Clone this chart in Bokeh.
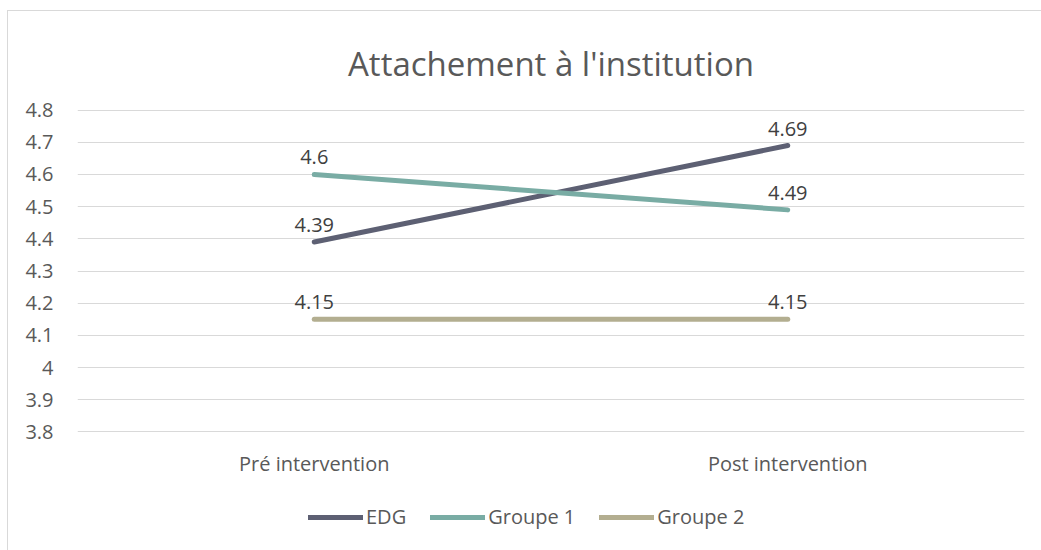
from bokeh.plotting import figure
from bokeh.layouts import column
from bokeh.models import ColumnDataSource, FactorRange, Range1d, FixedTicker, Legend, LegendItem, LabelSet
from bokeh.core.properties import value
from bokeh.embed import file_html
from bokeh.resources import INLINE

categories = ["Pré intervention", "Post intervention"]
series_names = ["EDG", "Groupe 1", "Groupe 2"]
edg = [4.39, 4.69]
groupe1 = [4.6, 4.49]
groupe2 = [4.15, 4.15]
y_ticks = [3.8, 3.9, 4.0, 4.1, 4.2, 4.3, 4.4, 4.5, 4.6, 4.7, 4.8]
y_tick_labels = ["3.8", "3.9", "4", "4.1", "4.2", "4.3", "4.4", "4.5", "4.6", "4.7", "4.8"]
colors = ["#5d6073", "#79aca4", "#b3ae90"]

FONT = "Open Sans"
TXT = "#595959"

p = figure(
    x_range=FactorRange(*categories, range_padding=0),
    y_range=Range1d(y_ticks[0] - 0.002, y_ticks[-1] + 0.002),
    frame_width=947, frame_height=323,
    output_backend="svg", toolbar_location=None,
    min_border_left=69, min_border_right=17, min_border_top=98, min_border_bottom=60,
)

p.title.text = "Attachement à l'institution"
p.title.align = "center"
p.title.text_font = FONT
p.title.text_font_size = "33px"
p.title.text_font_style = "normal"
p.title.text_color = TXT
p.title.standoff = 47

p.outline_line_color = None
p.background_fill_color = "white"
p.border_fill_color = "white"

p.xgrid.grid_line_color = None
p.ygrid.grid_line_color = "#d9d9d9"
p.ygrid.grid_line_width = 1
p.yaxis.ticker = FixedTicker(ticks=y_ticks)
p.yaxis.major_label_overrides = {t: l for t, l in zip(y_ticks, y_tick_labels)}

for ax in (p.xaxis, p.yaxis):
    ax.axis_line_color = None
    ax.major_tick_line_color = None
    ax.minor_tick_line_color = None
    ax.major_tick_out = 0
    ax.major_tick_in = 0
    ax.major_label_text_font = FONT
    ax.major_label_text_font_size = "20px"
    ax.major_label_text_color = TXT
p.yaxis.major_label_standoff = 24
p.xaxis.major_label_standoff = 17

# Legend strip (separate small figure below the chart)
leg = figure(width=1033, height=58, x_range=FactorRange(*categories), y_range=Range1d(0, 1),
             output_backend="svg", toolbar_location=None,
             x_axis_location=None, y_axis_location=None,
             min_border_left=0, min_border_right=0, min_border_top=0, min_border_bottom=0)
leg.outline_line_color = None
leg.xgrid.grid_line_color = None
leg.ygrid.grid_line_color = None
leg.background_fill_color = "white"
leg.border_fill_color = "white"

items = []
for name, vals, col in zip(series_names, [edg, groupe1, groupe2], colors):
    src = ColumnDataSource(dict(x=categories, y=vals, lab=[f"{v:g}" for v in vals]))
    p.line("x", "y", source=src, line_color=col, line_width=5, line_cap="round")
    lbl = LabelSet(x="x", y="y", text="lab", source=src, text_align="center",
                   text_baseline="bottom", y_offset=10, text_font=value(FONT),
                   text_font_size="20px", text_color="#404040")
    p.add_layout(lbl)
    # same series in the legend strip (outside its visible range) to provide the swatch
    r = leg.line("x", "y", source=src, line_color=col, line_width=5, line_cap="round")
    items.append(LegendItem(label=name, renderers=[r]))

legend = Legend(items=items, orientation="horizontal", location=(231, 20),
                label_text_font=FONT, label_text_font_size="20px", label_text_color=TXT,
                glyph_width=55, glyph_height=20, label_standoff=3, spacing=24,
                border_line_color=None, background_fill_alpha=0, margin=0, padding=10)
leg.add_layout(legend, "center")

layout = column(p, leg, spacing=0)
layout.styles = {"margin-left": "7px", "margin-top": "10px",
                 "border-left": "1px solid #d9d9d9", "border-top": "1px solid #d9d9d9"}

open("out.html", "w").write(file_html(layout, INLINE))
